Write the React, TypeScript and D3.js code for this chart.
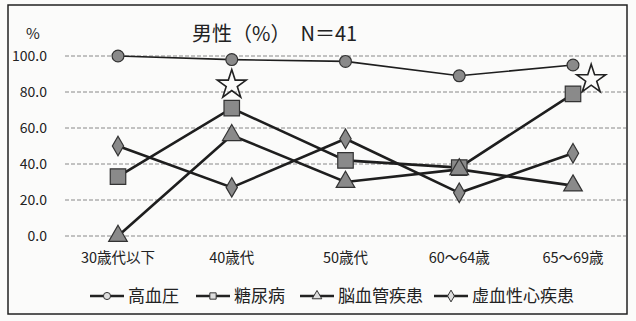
import * as d3 from "d3";
import React, { useRef, useEffect } from "react";

const categories = ["30歳代以下", "40歳代", "50歳代", "60〜64歳", "65〜69歳"];
const seriesNames = ["高血圧", "糖尿病", "脳血管疾患", "虚血性心疾患"];
const hypertension = [100, 98, 97, 89, 95];
const diabetes = [33, 71, 42, 38, 79];
const stroke = [0, 56, 30, 37, 28];
const heartDisease = [50, 27, 54, 24, 46];
const starCategories = ["40歳代", "65〜69歳"];
const starValues = [84, 87];
const yTicks = [0, 20, 40, 60, 80, 100];

const W = 636;
const H = 321;
const margin = { top: 56, right: 63, bottom: 85, left: 118 };
const FONT = "'Noto Sans CJK JP', 'Noto Sans', sans-serif";

function App() {
  const ref = useRef<SVGSVGElement>(null);

  useEffect(() => {
    const svg = d3.select(ref.current);
    svg.selectAll("*").remove();

    svg.append("rect").attr("width", W).attr("height", H).attr("fill", "#fbfbfa");
    // outer frame
    svg
      .append("rect")
      .attr("x", 8)
      .attr("y", 5)
      .attr("width", 619)
      .attr("height", 309)
      .attr("fill", "none")
      .attr("stroke", "#222")
      .attr("stroke-width", 1.5);

    var x = d3
      .scalePoint()
      .domain(categories)
      .range([margin.left, W - margin.right]);
    var y = d3
      .scaleLinear()
      .domain([0, 100])
      .range([H - margin.bottom, margin.top]);

    // gridlines
    svg
      .append("g")
      .selectAll("line")
      .data(yTicks)
      .enter()
      .append("line")
      .attr("x1", 65)
      .attr("x2", 626)
      .attr("y1", (d) => y(d))
      .attr("y2", (d) => y(d))
      .attr("stroke", "#888")
      .attr("stroke-width", 1)
      .attr("stroke-dasharray", "4,2");

    // y labels
    svg
      .append("g")
      .selectAll("text")
      .data(yTicks)
      .enter()
      .append("text")
      .attr("x", 47)
      .attr("y", (d) => y(d))
      .attr("dy", "0.35em")
      .attr("text-anchor", "end")
      .attr("font-family", FONT)
      .attr("font-size", 14)
      .attr("fill", "#222")
      .text((d) => d.toFixed(1));

    // x labels
    svg
      .append("g")
      .selectAll("text")
      .data(categories)
      .enter()
      .append("text")
      .attr("x", (d) => x(d)!)
      .attr("y", 263)
      .attr("text-anchor", "middle")
      .attr("font-family", FONT)
      .attr("font-size", 14.5)
      .attr("fill", "#222")
      .text((d) => d);

    svg
      .append("text")
      .attr("x", 33)
      .attr("y", 39)
      .attr("text-anchor", "middle")
      .attr("font-family", FONT)
      .attr("font-size", 15)
      .attr("fill", "#222")
      .text("%");
    svg
      .append("text")
      .attr("x", 192)
      .attr("y", 41)
      .attr("font-family", FONT)
      .attr("font-size", 20)
      .attr("fill", "#222")
      .attr("xml:space", "preserve")
      .text("男性（%）　N＝41");

    const symbols = [d3.symbolCircle, d3.symbolSquare, d3.symbolTriangle, d3.symbolDiamond];
    const sizes = [110, 240, 150, 110];
    const widths = [1.6, 2.6, 2.6, 2.6];
    const allSeries = [hypertension, diabetes, stroke, heartDisease];

    const line = d3
      .line<number>()
      .x((d, i) => x(categories[i])!)
      .y((d) => y(d));

    allSeries.forEach((vals, s) => {
      svg
        .append("path")
        .datum(vals)
        .attr("d", line)
        .attr("fill", "none")
        .attr("stroke", "#1e1e1e")
        .attr("stroke-width", widths[s]);
    });
    allSeries.forEach((vals, s) => {
      svg
        .append("g")
        .selectAll("path")
        .data(vals)
        .enter()
        .append("path")
        .attr("transform", (d, i) => "translate(" + x(categories[i]) + "," + y(d) + ")")
        .attr("d", d3.symbol().type(symbols[s]).size(sizes[s])())
        .attr("fill", "#8a8a8a")
        .attr("stroke", "#333")
        .attr("stroke-width", 1.2);
    });

    // stars (separate reference points); the last one sits a bit right of its category
    const step = x.step();
    svg
      .append("g")
      .selectAll("path")
      .data(starValues)
      .enter()
      .append("path")
      .attr("transform", (d, i) => {
        const xi = x(starCategories[i])! + (i === starValues.length - 1 ? step * 0.16 : 0);
        return "translate(" + xi + "," + y(d) + ")";
      })
      .attr("d", d3.symbol().type(d3.symbolStar).size(260)())
      .attr("fill", "none")
      .attr("stroke", "#222")
      .attr("stroke-width", 1.6);

    // legend
    const legendX = [90, 196, 300, 434];
    const legend = svg
      .append("g")
      .selectAll("g")
      .data(seriesNames)
      .enter()
      .append("g")
      .attr("transform", (d, i) => "translate(" + legendX[i] + ",296)");
    legend
      .append("line")
      .attr("x1", 0)
      .attr("x2", 34)
      .attr("stroke", "#222")
      .attr("stroke-width", 2.6);
    legend
      .append("path")
      .attr("transform", "translate(17,0)")
      .attr("d", (d, i) => d3.symbol().type(symbols[i]).size(40)())
      .attr("fill", "#ddd")
      .attr("stroke", "#333")
      .attr("stroke-width", 1);
    legend
      .append("text")
      .attr("x", 38)
      .attr("dy", "0.35em")
      .attr("font-family", FONT)
      .attr("font-size", 17)
      .attr("fill", "#222")
      .text((d) => d);
  }, []);

  return (
    <div style={{ position: "fixed", left: 0, top: 0 }}>
      <svg ref={ref} width={W} height={H}></svg>
    </div>
  );
}
export default App;
